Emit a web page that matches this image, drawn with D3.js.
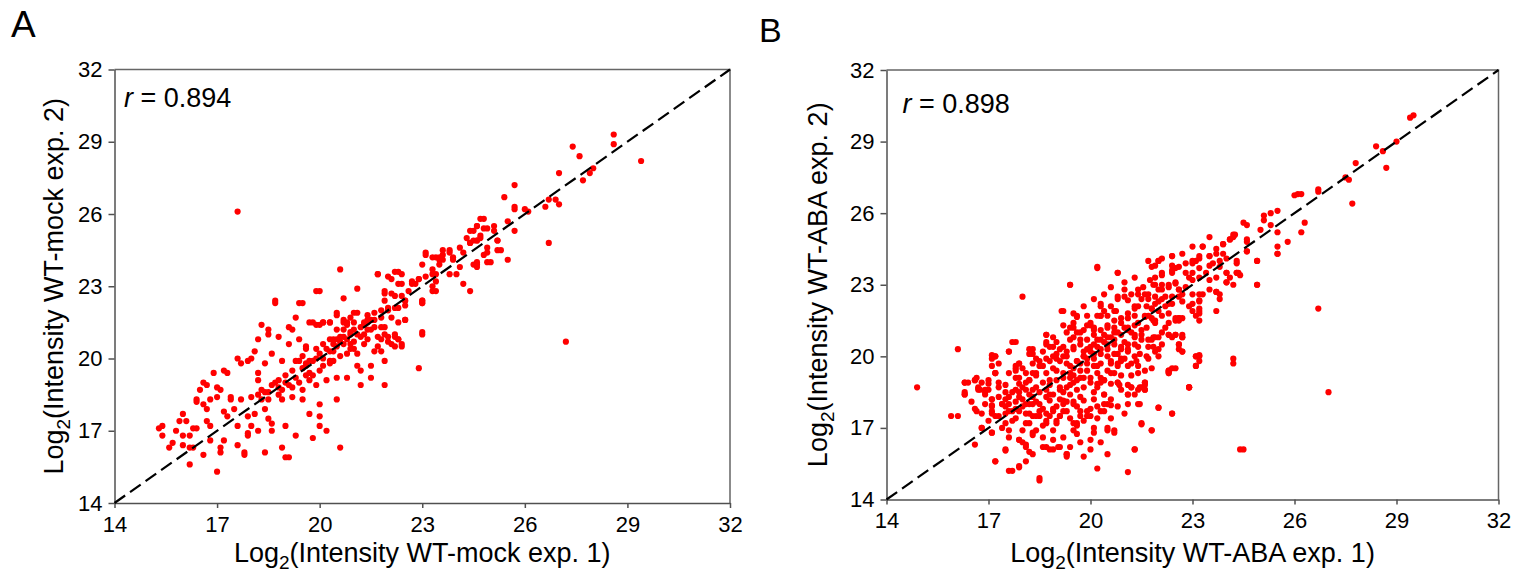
<!DOCTYPE html>
<html>
<head>
<meta charset="utf-8">
<script src="https://cdn.jsdelivr.net/npm/d3@7"></script>
<style>
  body { margin: 0; background: #fff; }
</style>
</head>
<body>
<svg width="1522" height="574"></svg>
<script>
// ---- data (log2 intensities) ----
var ticks = [14, 17, 20, 23, 26, 29, 32];
var panelLetters = ["A", "B"];
var rValues = [0.894, 0.898];
var xTitles = ["WT-mock exp. 1", "WT-ABA exp. 1"];
var yTitles = ["WT-mock exp. 2", "WT-ABA exp. 2"];

var mockPoints = [
  [15.3,17.1],[15.4,17.2],[15.4,16.8],[15.7,16.5],[15.6,16.3],[15.8,17.0],[15.9,17.4],[16.0,16.8],[16.0,16.4],[16.0,17.7],
  [16.1,17.4],[16.2,16.8],[16.2,15.6],[16.2,16.3],[16.3,17.1],[16.4,17.1],[16.3,16.3],[16.4,18.3],[16.4,18.2],[16.5,18.7],
  [16.6,19.0],[16.6,18.1],[16.7,17.9],[16.7,17.4],[16.7,18.9],[16.8,17.2],[16.8,16.6],[16.6,16.0],[16.8,18.3],[16.9,19.4],
  [17.0,18.4],[17.0,18.8],[17.1,16.3],[17.1,16.1],[17.0,15.3],[17.1,18.7],[17.2,17.8],[17.2,16.6],[17.3,17.6],[17.2,19.5],
  [17.3,19.4],[17.4,18.3],[17.4,18.4],[17.5,17.9],[17.6,17.2],[17.6,16.4],[17.6,20.0],[17.7,19.8],[17.7,18.3],[17.8,16.0],
  [17.8,16.1],[17.9,16.8],[17.9,19.9],[17.9,17.6],[17.9,16.9],[18.0,20.0],[18.0,17.2],[18.1,17.7],[18.1,20.3],[18.2,19.4],
  [18.2,17.0],[18.2,20.8],[18.2,19.1],[18.3,21.4],[18.3,18.3],[18.4,16.1],[18.3,18.7],[18.4,17.9],[18.4,19.8],[18.5,17.5],
  [18.5,21.0],[18.5,18.6],[18.5,21.2],[18.6,17.3],[18.6,17.0],[18.6,20.2],[18.7,19.0],[18.7,22.3],[18.8,18.5],[18.8,20.9],
  [18.8,18.8],[18.9,16.3],[18.9,18.3],[18.9,19.9],[19.0,17.2],[19.0,19.0],[19.0,15.9],[19.1,15.9],[19.1,21.3],[19.1,20.6],
  [19.2,18.8],[19.2,18.4],[19.2,21.2],[19.3,21.7],[19.3,16.8],[19.3,19.9],[19.4,20.8],[19.4,19.0],[19.4,22.3],[19.5,18.3],
  [19.5,20.1],[19.5,18.7],[19.6,19.7],[19.6,20.4],[19.7,19.1],[19.7,17.7],[19.7,21.5],[19.7,19.9],[19.8,16.7],[19.8,19.3],
  [19.9,20.4],[19.9,18.9],[20.0,18.1],[20.0,17.6],[20.0,17.2],[20.0,21.4],[20.1,21.5],[20.1,20.6],[20.1,19.7],[20.2,19.1],
  [20.2,17.0],[20.3,21.5],[20.3,19.9],[20.4,20.8],[20.4,20.3],[20.5,18.3],[20.5,21.8],[20.5,19.2],[20.6,20.9],[20.6,16.3],
  [20.7,21.6],[20.7,21.2],[20.7,20.6],[20.8,19.2],[20.8,20.2],[20.8,21.4],[20.9,20.6],[20.9,21.0],[21.0,21.9],[21.0,21.5],
  [21.0,20.4],[21.1,19.7],[21.1,20.2],[21.2,19.5],[21.2,18.9],[21.3,20.6],[21.3,21.0],[21.4,21.8],[21.4,21.5],[21.5,19.7],
  [21.5,19.2],[21.6,20.3],[21.6,21.6],[21.7,20.9],[21.7,20.5],[21.8,21.3],[21.8,20.3],[21.9,19.9],[21.9,18.9],[21.9,21.3],
  [22.0,22.1],[22.0,20.9],[22.1,20.6],[22.1,21.7],[22.2,21.0],[22.2,20.5],[22.3,22.1],[22.3,21.5],[22.3,20.8],[22.4,20.6],
  [22.5,21.6],[22.5,22.4],[22.9,19.6],[23.0,21.1],[23.0,22.3],[23.0,22.4],
  [19.0,19.3],[19.2,19.5],[19.3,19.2],[19.5,19.6],[19.6,19.8],[19.8,19.9],[19.9,20.0],[20.0,20.2],[20.1,20.0],[20.2,20.4],
  [20.3,20.3],[20.4,20.6],[20.5,20.5],[20.6,20.7],[20.7,20.9],[20.8,20.8],[20.9,21.1],[21.0,21.2],[21.1,21.0],[21.2,21.3],
  [21.3,21.4],[21.4,21.2],[21.5,21.6],[20.0,19.5],[19.7,19.4],[19.4,19.9],[20.3,19.8],[20.6,20.1],[21.0,20.7],[18.6,18.9],
  [18.8,19.1],[18.4,18.6],[18.9,18.7],[19.1,18.9],[18.2,18.5],[18.0,18.4],[18.5,18.3],[20.8,21.5],[21.8,21.7],[19.6,19.3],
  [20.4,19.9],[20.9,20.4],[21.2,20.9],
  [18.7,22.4],[19.5,22.3],[20.0,22.8],[20.6,23.7],[20.7,22.5],[21.1,22.9],[20.5,21.9],[21.7,23.5],[22.2,23.6],[22.4,23.5],
  [22.1,23.3],[22.4,23.1],[21.9,22.7],[22.2,22.6],[22.4,22.6],[22.5,22.4],[22.7,23.1],[22.9,23.3],[23.1,23.4],[23.0,23.9],
  [23.1,24.3],[23.3,24.2],[23.5,24.2],[23.5,23.9],[23.6,24.5],[23.8,24.4],[23.9,24.2],[24.1,24.6],[24.1,23.8],[24.2,23.1],
  [24.4,22.8],[23.3,23.7],[23.4,23.5],[23.3,23.0],[23.3,22.8],[23.0,22.4],[23.0,21.0],
  [24.3,25.0],[24.4,25.3],[24.6,25.5],[24.7,25.8],[24.5,24.9],[24.7,25.1],[24.9,25.4],[25.1,25.5],[25.2,24.9],[24.9,24.4],
  [25.0,24.0],[24.6,23.9],[24.6,23.8],[25.2,24.5],
  [28.6,29.3],[28.6,28.9],[27.4,28.8],[27.6,28.4],[29.4,28.2],[27.0,27.7],[27.7,27.4],[27.9,27.7],[28.0,27.9],[25.7,27.2],
  [25.4,26.7],[25.7,26.2],[25.7,26.3],[26.0,26.2],[26.1,26.1],[26.7,26.6],[26.9,26.6],[27.0,26.4],[26.6,26.3],[26.7,24.8],
  [25.5,25.7],[25.7,25.3],[25.5,24.1],[25.3,24.5],[25.2,24.9],[24.9,24.6],[24.8,24.3],[24.9,24.0],[24.8,25.8],[24.8,25.4],
  [24.6,25.5],[24.5,25.3],[25.1,25.3],[24.7,25.0],[24.6,24.9],[24.4,24.8],[24.6,24.0],[24.0,23.5],[23.8,23.5],[23.8,24.5],
  [23.6,24.3],[23.9,24.1],[23.5,24.1],[23.4,23.2],[23.4,22.8],
  [23.1,24.4],[23.4,24.2],[23.6,24.1],[24.2,24.4],[24.4,24.8],[24.6,24.9],[24.5,23.9],[23.3,23.5],[22.9,23.3],[22.8,23.1],
  [22.7,23.2],[22.6,22.8],[23.0,22.3],[22.5,22.2],[22.3,23.1],[22.3,23.6],[22.0,23.4],[21.7,23.5],[19.9,22.8],[22.1,22.7],
  [21.9,22.8],[21.9,22.4],[22.2,22.1],[22.5,21.6],[22.3,20.8],[22.0,22.0],[21.8,22.0],[21.6,21.9],[21.4,21.6],[21.3,21.5],
  [21.1,21.9],[20.9,21.7],[20.7,21.5],[20.5,21.2],[20.5,20.8],[20.3,20.8],[20.3,21.5],[20.1,21.5],[19.9,21.4],[19.8,21.5],
  [19.6,20.5],[21.9,21.0],[21.8,20.8],[21.6,21.3],[21.5,21.2],[21.4,20.8],[22.0,20.7],[22.2,20.9],[22.4,20.5],
  [17.6,26.1],[27.2,20.7]
];

var abaPoints = [
  [14.9,18.7],[16.1,20.3],[15.9,17.5],[16.1,17.5],[24.5,16.1],[27.0,18.5],[26.7,22.0],[24.2,19.7],
  [16.3,18.9],[16.3,18.4],[16.6,19.0],[16.6,17.8],[16.7,18.7],[16.7,18.6],[16.6,16.3],[16.8,17.0],[16.9,18.6],[17.0,18.85],
  [17.1,18.2],[17.1,17.9],[17.1,17.7],[17.2,17.5],[17.1,16.8],[17.2,15.6],[17.2,19.3],[17.3,18.7],[17.4,18.0],[17.5,16.05],
  [17.5,17.9],[17.6,17.7],[17.5,17.2],[17.7,15.2],[17.6,16.9],[17.7,17.3],[17.8,17.8],[17.8,19.4],[17.9,18.85],[17.9,19.7],
  [17.9,16.5],[17.9,15.35],[18.0,16.4],[18.1,15.6],[18.1,16.2],[18.1,17.6],[18.2,17.2],[18.2,18.0],[18.3,16.7],[18.3,15.9],
  [18.3,18.6],[18.5,14.8],[18.4,17.5],[18.5,17.7],[18.6,17.1],[18.7,16.2],[18.7,17.3],[18.8,18.15],[18.8,18.4],[18.9,16.1],
  [18.9,16.9],[19.0,17.3],[19.1,16.2],[19.1,17.5],[19.2,18.0],[19.2,18.15],[19.3,15.9],[19.3,15.8],[19.4,18.4],[19.5,18.1],
  [19.5,17.2],[19.6,17.1],[19.7,17.5],[19.7,17.7],[19.6,16.75],[19.8,15.8],[19.8,18.15],[19.9,17.5],[20.0,16.5],[20.1,16.8],
  [20.2,15.3],[20.2,18.85],[20.2,17.9],[20.3,17.7],[20.4,18.0],[20.4,18.4],[20.5,16.9],[20.5,15.9],[20.6,18.85],[20.7,16.9],
  [20.7,19.3],[20.8,19.7],[20.85,18.8],[21.1,15.15],[21.1,18.8],[21.1,18.4],[21.3,16.1],[21.4,18.6],[21.5,18.7],[21.5,17.15],
  [21.6,18.8],[21.6,18.6],[21.4,18.0],[21.8,16.9],[22.0,20.0],[22.0,17.85],[22.3,19.3],[22.3,19.4],[22.4,17.6],[22.7,20.2],
  [22.9,18.7],[23.1,19.6],[23.2,20.0],
  [25.3,26.0],[25.5,26.1],[25.1,25.7],[24.6,25.5],[25.5,24.3],[24.9,24.0],[24.9,23.0],[24.2,25.0],[24.2,25.1],[24.1,24.9],
  [24.6,24.8],[24.6,24.4],[23.9,24.7],[23.9,24.3],[23.7,24.5],[23.7,24.3],[23.5,24.2],[23.3,24.6],[23.2,24.1],[23.1,24.0],
  [23.0,23.9],[23.0,23.5],[22.9,23.3],[23.2,23.7],[23.5,23.8],[23.8,24.0],[24.0,24.1],[24.3,24.0],[24.3,23.5],[24.4,23.4],
  [24.0,23.5],[24.0,23.1],[23.7,22.7],[23.8,22.4],[24.2,23.0],[23.7,23.3],[23.5,23.2],[23.2,22.6],[23.0,22.2],[23.2,22.0],
  [23.2,21.8],[22.7,22.3],[22.7,22.6],[22.6,22.8],[22.6,21.6],[22.5,23.1],[22.4,23.5],[22.4,23.8],[22.5,23.7],[22.4,24.2],
  [22.0,24.0],[21.9,23.8],[22.1,23.4],[22.1,23.0],[22.0,22.8],[21.9,23.0],[21.9,22.5],[22.3,22.9],[22.2,22.5],[22.3,22.2],
  [22.1,22.4],[21.9,22.2],[21.8,22.0],[21.7,22.4],[21.6,22.6],[21.5,22.4],[21.4,22.1],[21.3,22.0],[21.0,22.8],[20.8,23.5],
  [20.2,23.75],[19.4,23.0],[18.0,22.5],[19.2,21.9],[20.3,22.2],[20.8,22.5],[20.7,21.9],[21.1,21.8],[21.3,21.7],[21.6,21.65],
  [21.8,21.6],[21.9,21.5],[22.3,21.4],[22.3,21.8],[22.5,21.5],[22.6,21.6],[22.3,20.9],[22.5,20.9],[22.7,20.8],[22.7,20.2],
  [22.6,20.5],[21.9,20.8],[21.8,20.7],[22.0,20.3],[21.7,20.4],[21.5,20.7],[21.4,20.4],[21.3,20.9],[21.1,21.2],[20.9,21.4],
  [20.7,21.5],[20.5,21.7],[20.3,21.7],[20.1,21.2],[20.0,21.3],[19.7,21.0],[19.6,21.65],[19.5,21.2],[19.7,20.7],[19.5,20.4],
  [19.3,20.2],[19.2,20.0],[19.3,19.7],[18.9,20.0],[18.9,20.4],[18.7,20.9],[18.7,20.6],[18.3,20.3],[18.3,20.1],[17.8,20.6],
  [17.6,20.2],[17.2,20.0],[17.1,19.9],[17.1,19.6],[17.2,19.3],[17.0,19.0],[16.6,19.0],[16.4,18.9],[16.3,18.5],[16.7,18.65],
  [16.8,18.9],[16.9,18.4],[17.5,18.8],[17.5,18.5],[17.8,19.5],[17.8,19.1],[17.9,18.5],[18.1,19.3],[18.2,19.0],[18.4,19.2],
  [18.5,19.6],[18.7,19.3],[18.8,19.0],[19.0,19.4],[19.1,18.7],[19.4,19.3],[19.6,19.8],[19.8,20.0],[19.9,20.3],[20.1,20.5],
  [20.3,20.7],[20.5,20.8],[20.7,21.0],[20.9,20.4],[21.1,20.2],[21.3,20.0],[20.9,19.8],[21.1,19.6],[21.4,19.3],[21.6,18.9],
  [21.6,18.6],[21.2,18.7],[21.1,18.4],[20.8,18.9],[20.6,19.3],[20.4,19.0],[20.2,19.6],[20.0,19.1],[19.8,18.7],[19.6,19.0],
  [22.3,19.3],[22.3,19.4],[22.4,19.5],[22.9,18.7],[23.1,20.0],[23.2,20.05],[23.1,19.6],
  [20.2,23.7],[20.8,23.5],[19.4,23.0],[19.15,21.9],[20.3,22.1],[22.4,24.2],[23.3,24.6],[23.5,24.2],[23.9,24.7],[24.1,24.9],
  [24.25,25.1],[24.6,24.9],[24.6,24.4],[25.5,24.3],[24.9,24.0],[24.9,23.0],[24.2,19.9],[22.9,18.7],[22.4,17.6],[22.0,17.85],
  [24.4,16.1],[21.8,23.75],[22.0,24.0],[21.85,23.0],[22.1,22.8],[22.3,23.0],[22.5,23.05],[22.6,22.8],[22.4,22.5],[22.2,22.1],
  [22.0,21.9],[21.85,21.5],[21.65,21.2],[21.5,21.1],[21.3,20.8],[21.1,20.5],[20.9,20.3],[20.7,20.1],[20.5,20.0],[20.3,19.7],
  [20.1,19.6],[19.9,19.4],[19.7,19.1],[19.5,18.9],[19.3,18.7],[19.1,18.6],[18.9,18.4],[18.7,18.3],[18.5,18.0],[18.3,18.3],
  [18.1,18.0],[17.9,17.7],[17.7,17.7],[17.5,17.6],[17.3,17.5],[17.1,17.6],[17.4,18.0],[17.6,18.3],[17.8,18.6],[18.0,18.7],
  [18.2,19.0],[18.4,19.3],[18.6,19.6],[18.8,19.8],[19.0,20.1],[19.2,20.4],[19.4,20.7],[19.6,21.0],[19.8,21.1],[20.0,21.4],
  [20.2,21.7],[20.4,21.9],[20.6,22.1],[20.8,22.4],[21.0,22.5],[21.2,22.6],[21.4,22.8],[21.55,22.9],[21.75,23.2],[21.9,23.3],
  [22.1,23.5],[22.4,23.6],[22.6,23.75],[22.8,23.9],[23.0,24.0],[23.2,24.2],[23.4,23.5],[23.2,23.3],[23.0,23.2],[22.8,23.5],
  [23.6,23.9],[23.8,23.75],[24.0,23.5],[24.3,23.5],[23.7,22.7],[23.8,22.6],[23.2,22.35],[23.2,21.9],[23.0,21.9],[22.5,21.6],
  [22.7,21.6],[22.2,21.2],[22.3,20.9],[22.5,20.9],[22.7,20.8],[22.6,20.5],[22.6,20.3],[22.0,20.8],[21.7,20.7],[21.85,20.4],
  [21.45,20.1],[21.65,20.0],[21.35,19.8],[21.2,19.7],[21.0,19.9],[20.8,19.6],[20.9,19.2],[20.8,18.9],[20.6,19.7],[20.5,19.4],
  [20.3,19.1],[20.2,18.7],[20.4,18.4],[20.1,18.2],[19.9,17.7],[20.0,17.5],[20.1,17.0],[19.7,18.3],[19.5,18.0],[19.3,17.7],
  [19.1,17.5],[18.9,17.7],[18.7,17.6],[18.5,17.5],[18.7,17.2],[19.0,17.2],[18.3,17.5],[18.1,17.2],[18.3,16.8],[18.0,16.9],
  [17.9,16.5],[18.1,16.3],[18.2,16.0],[18.6,16.2],[18.8,16.1],[19.05,16.2],[19.3,15.9],[19.6,17.2],[19.5,16.9],[20.5,17.0],
  [20.7,16.8],[21.3,16.1],[21.5,17.2],[21.8,16.9],[21.1,18.0],[21.3,18.4],[21.45,18.7],[21.6,18.9],[21.2,18.7],[21.45,18.0],
  [20.6,17.95],[20.5,18.0],[22.3,19.35],[22.5,19.5],[22.9,18.7],[23.1,20.0],[23.2,19.8],
  [16.65,19.1],[16.3,18.9],[16.3,18.4],[16.75,18.6],[16.9,18.5],[17.0,18.6],[17.2,20.0],[17.1,20.05],[17.2,19.3],[17.3,18.9],
  [17.1,18.2],[17.1,17.95],[16.65,17.7],[16.8,17.0],[17.1,16.8],[17.2,15.6],[17.5,16.1],[17.6,15.2],[17.9,15.4],[18.5,14.9],
  [17.7,20.6],[17.6,20.2],[17.8,19.6],[17.9,19.7],[18.2,20.3],[18.2,20.1],[18.4,19.9],[18.7,20.5],[18.7,20.9],[18.8,20.4],
  [19.1,20.3],[19.4,21.2],[19.5,20.8],[19.6,21.7],[19.9,21.3],[19.9,21.7],[20.3,21.7],[20.1,21.1],[20.5,21.2],[20.75,21.9],
  [21.1,22.35],[21.4,22.6],[21.3,22.1],[21.65,22.1],[21.7,21.7],[21.85,20.8],[22.1,21.0],[22.6,21.5],[22.7,20.9],[23.0,22.6],
  [23.2,22.3],[22.9,22.1],[23.1,21.7],[23.2,21.5],[23.3,22.6],[23.5,22.8],[23.7,21.9],[24.0,23.1],[24.1,23.3],[24.3,23.9],
  [24.35,23.5],
  [19.0,19.0],[19.2,19.3],[19.4,19.6],[19.6,19.8],[19.8,20.0],[20.0,20.2],[20.2,20.4],[20.4,20.6],[20.6,20.8],[20.8,21.0],
  [21.0,21.2],[19.1,19.8],[19.3,20.0],[19.5,20.3],[19.7,20.5],[19.9,20.7],[20.1,20.9],[20.3,21.1],[20.5,21.3],[19.5,19.2],
  [19.7,19.4],[19.9,19.7],[20.1,19.9],[20.3,20.1],[20.5,20.3],[20.7,20.5],[18.8,18.8],[18.6,18.9],[18.4,18.7],[18.9,19.5],
  [19.0,19.9],[19.2,18.5],[19.4,18.8],[19.6,18.6],[19.8,19.1],[20.0,18.9],[20.2,19.3],[20.4,19.0],[20.6,19.8],[20.8,20.1],
  [21.0,20.6],[21.2,21.0],[21.4,21.4],[21.6,21.7],[21.8,22.0],[22.0,22.3],[21.7,22.6],[21.1,21.6],[20.9,21.6],[20.7,21.2],
  [18.2,18.4],[18.0,18.2],[17.8,18.1],[18.3,19.3],[18.5,19.8],[18.7,19.9],[18.1,18.9],[17.9,19.1],[19.3,21.0],[19.5,21.4],
  [19.0,20.6],[18.9,17.8],[19.1,18.2],[19.3,18.1],[20.9,19.9],[21.1,20.3],[21.3,20.5],[21.5,20.9],[21.9,21.4],[22.1,21.7],
  [22.4,22.2],[22.6,22.5],[22.8,22.9],
  [17.3,18.3],[17.6,18.0],[17.8,17.4],[18.0,17.9],[18.2,17.6],[18.4,18.1],[18.6,17.8],[18.8,17.5],[19.0,17.9],[19.2,17.7],
  [19.4,17.4],[19.6,17.9],[19.8,17.3],[20.0,17.8],[20.2,17.4],[20.4,17.7],[20.6,17.4],[20.8,17.9],[21.0,17.6],[18.4,16.9],
  [18.6,16.6],[18.9,16.5],[19.2,16.6],[19.4,16.2],[19.7,16.4],[20.0,16.1],[20.3,16.4],[17.6,16.6],[17.4,17.0],[17.0,17.3],
  [16.8,17.6],[16.5,18.1],[16.9,18.0],[17.3,19.7],[17.6,19.3],[18.0,19.5],[18.3,19.7],[18.6,20.2],[18.9,20.8],[19.2,21.3],
  [19.5,21.8],[19.8,22.1],[20.1,22.4],[20.4,22.6],[20.6,22.9],[21.0,23.1],[21.3,23.3],[21.7,24.0],[22.1,24.1],[22.7,24.3],
  [23.0,24.6],[23.5,25.0],[20.1,18.5],[20.3,18.9],[20.6,18.2],[20.9,18.6],[21.2,19.2],[21.4,19.6],[21.7,19.9],[21.9,20.2],
  [22.1,20.5],[22.4,20.8],[21.8,19.5],[21.6,19.4],[19.5,19.5],[19.7,19.7],[19.9,19.9],[20.1,20.1],[20.3,20.3],[20.5,20.5],
  [20.7,20.7],[20.9,20.9],[21.1,21.1],[21.3,21.3],[19.2,19.1],[19.4,19.1],[19.8,20.2],[20.0,20.4],[20.2,20.7],[20.4,20.9],
  [18.5,18.5],[18.7,18.6],[18.3,18.0],[18.1,18.6],[17.9,18.3],[17.7,18.5],[17.5,18.2],
  [29.4,30.0],[29.5,30.1],[29.0,29.0],[28.4,28.8],[28.6,28.6],[28.7,27.9],[27.8,28.1],[27.6,27.4],[27.5,27.5],[27.7,26.4],
  [26.1,26.8],[26.0,26.75],[26.2,26.8],[26.7,26.9],[26.7,27.0],[25.5,24.6],[26.2,25.2],[26.3,25.6],[25.1,25.9],[24.5,25.6],
  [25.0,25.3],[25.8,24.8],[25.5,25.2],[25.3,25.5]
];

var svg = d3.select("svg");
var font = "Arial, 'Liberation Sans', sans-serif";

function addLogTitle(text, name) {
  text.append("tspan").text("Log");
  text.append("tspan").attr("dy", 7).attr("font-size", "19px").text("2");
  text.append("tspan").attr("dy", -7).text("(Intensity " + name + ")");
}

function drawPanel(points, box, i) {
  var x = d3.scaleLinear().domain([14, 32]).range([box.left, box.right]);
  var y = d3.scaleLinear().domain([14, 32]).range([box.bottom, box.top]);
  var g = svg.append("g");

  // frame top and right
  g.append("path")
    .attr("d", "M" + box.left + "," + box.top + "H" + box.right + "V" + box.bottom)
    .attr("fill", "none")
    .attr("stroke", "#666")
    .attr("stroke-width", 1.5);

  var xAxis = g.append("g")
    .attr("transform", "translate(0," + box.bottom + ")")
    .call(d3.axisBottom(x).tickValues(ticks).tickSize(5).tickSizeOuter(0).tickPadding(8));
  var yAxis = g.append("g")
    .attr("transform", "translate(" + box.left + ",0)")
    .call(d3.axisLeft(y).tickValues(ticks).tickSize(6).tickSizeOuter(0).tickPadding(6));

  [xAxis, yAxis].forEach(function(a) {
    a.selectAll("path, line").attr("stroke", "#505050").attr("stroke-width", 1.5);
    a.selectAll("text")
      .attr("font-family", font)
      .attr("font-size", "22px")
      .attr("fill", "#000");
  });

  // dots
  g.append("g")
    .selectAll("circle")
    .data(points)
    .enter()
    .append("circle")
    .attr("cx", function(d) { return x(d[0]); })
    .attr("cy", function(d) { return y(d[1]); })
    .attr("r", 3.1)
    .attr("fill", "#ff0000");

  // identity line
  var line = d3.line()
    .x(function(d) { return x(d); })
    .y(function(d) { return y(d); });
  g.append("path")
    .datum([14, 32])
    .attr("d", line)
    .attr("fill", "none")
    .attr("stroke", "#000")
    .attr("stroke-width", 2.2)
    .attr("stroke-dasharray", "13,6");

  // correlation label
  var rt = g.append("text")
    .attr("x", box.left + box.rx)
    .attr("y", box.top + box.ry)
    .attr("font-family", font)
    .attr("font-size", "27px")
    .attr("fill", "#000");
  rt.append("tspan").attr("font-style", "italic").text("r");
  rt.append("tspan").text(" = " + d3.format(".3f")(rValues[i]));

  // axis titles
  var xt = g.append("text")
    .attr("x", (box.left + box.right) / 2)
    .attr("y", 562)
    .attr("text-anchor", "middle")
    .attr("font-family", font)
    .attr("font-size", "27px")
    .attr("fill", "#000");
  addLogTitle(xt, xTitles[i]);

  var yt = g.append("text")
    .attr("transform", "rotate(-90)")
    .attr("x", -(box.top + box.bottom) / 2)
    .attr("y", box.ytitle)
    .attr("text-anchor", "middle")
    .attr("font-family", font)
    .attr("font-size", "27px")
    .attr("fill", "#000");
  addLogTitle(yt, yTitles[i]);

  // panel letter
  svg.append("text")
    .attr("x", box.lx)
    .attr("y", box.ly)
    .attr("font-family", font)
    .attr("font-size", box.lsize)
    .attr("fill", "#000")
    .text(panelLetters[i]);
}

drawPanel(mockPoints, {left: 114.5, right: 730, top: 69.5, bottom: 503, rx: 9.5, ry: 37,
  ytitle: 62.5, lx: 11, ly: 37, lsize: "37px"}, 0);
drawPanel(abaPoints, {left: 886.5, right: 1498.5, top: 70, bottom: 499.5, rx: 16, ry: 43,
  ytitle: 827, lx: 759, ly: 42, lsize: "34px"}, 1);
</script>
</body>
</html>
